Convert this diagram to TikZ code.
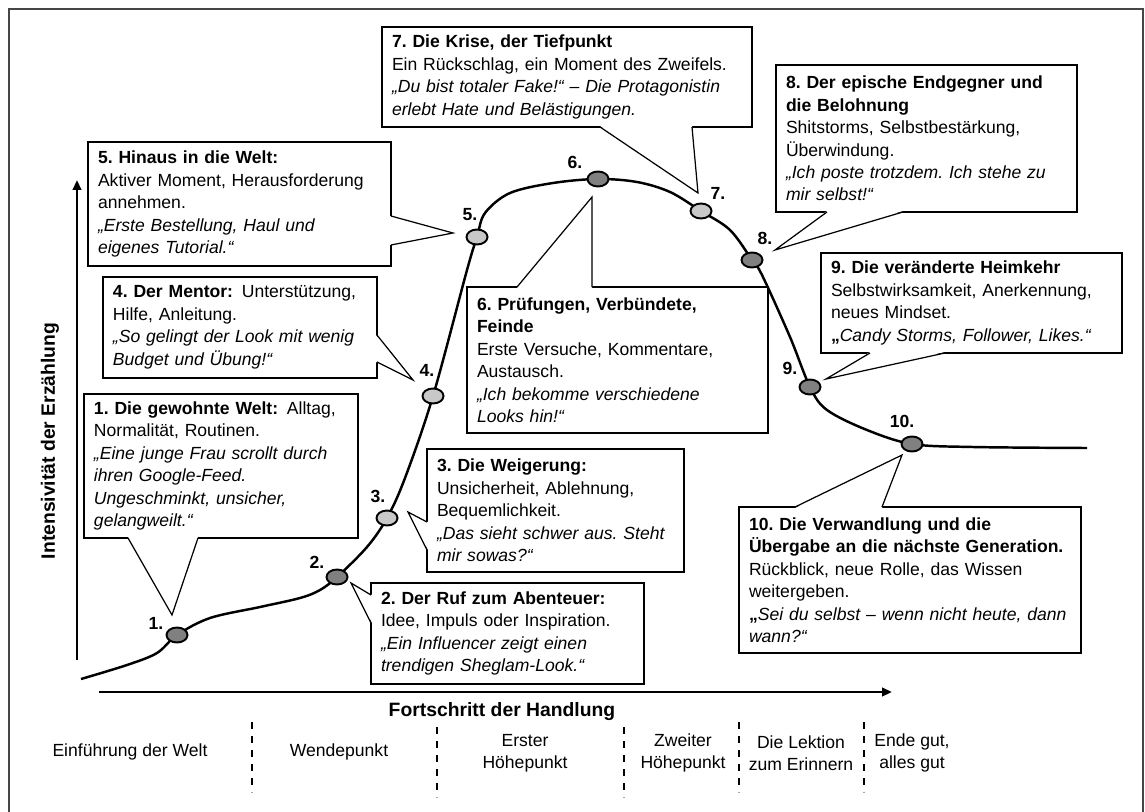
\documentclass[tikz,border=0pt]{standalone}
\usepackage{fontspec}
\setmainfont{Liberation Sans}
\usepackage{tikz}
\usetikzlibrary{arrows.meta,shapes.geometric,calc}
\definecolor{ptdark}{RGB}{128,128,128}
\definecolor{ptlight}{RGB}{200,200,200}
\definecolor{framegray}{RGB}{70,70,70}
\frenchspacing

\begin{document}
\begin{tikzpicture}[x=0.02cm,y=-0.02cm,
  box/.style={draw,fill=white,line width=0.7pt,anchor=north west,align=left,
    inner xsep=0.2cm,inner ysep=0.1cm,outer sep=0pt,font=\fontsize{10}{12.8}\selectfont},
  tail/.style={line width=0.7pt},
  pt/.style={ellipse,draw,line width=1.1pt,minimum width=0.42cm,minimum height=0.3cm,inner sep=0pt},
  num/.style={font=\bfseries\fontsize{10}{12}\selectfont,inner sep=0pt},
  phase/.style={align=center,font=\fontsize{10}{12.4}\selectfont},
  axlabel/.style={font=\bfseries\fontsize{11}{13}\selectfont},
  curve/.style={line width=1.4pt},
  axis/.style={line width=1.4pt,-{Triangle[length=0.2cm,width=0.17cm]}},
  sep/.style={line width=0.8pt,dash pattern=on 0.14cm off 0.14cm}]
  \useasboundingbox (0,0) rectangle (1145,811);
  \draw[framegray,line width=0.6pt] (9,9) rectangle (1143,830); %Outer frame

  \coordinate (y0) at (77,660);  %Intensity axis
  \coordinate (y1) at (77,180);
  \coordinate (x0) at (99,692);  %Progress axis
  \coordinate (x1) at (892,692);
  \draw[axis] (y0) -- (y1);
  \draw[axis] (x0) -- (x1);
  \node[axlabel,rotate=90] (ylab) at (50,441) {Intensivität der Erzählung};
  \node[axlabel] (xlab) at (502,712) {Fortschritt der Handlung};

  % story curve
  \draw[curve] plot[smooth,tension=0.55] coordinates {(81,679) (127,665) (157,653) (177,635)
    (210,618) (260,607) (300,598) (320,590) (337,577) (367,547) (387,518) (405,478) (433,396)
    (467,270) (477,237) (485,213) (510,193) (553,183) (598,179) (637,182) (670,192) (701,211)
    (730,230) (752,260) (762,275) (790,337) (810,387) (827,410) (867,430) (912,444) (973,447)
    (1087,448)};

  % callout boxes
  \node[box,text width=5.08cm,minimum height=2.88cm] (b1) at (84,394)
    {\textbf{1. Die gewohnte Welt:}\enspace Alltag,\\ Normalität, Routinen.\\
     \itshape „Eine junge Frau scrollt durch\\ ihren Google-Feed.\\ Ungeschminkt, unsicher,\\ gelangweilt.“};
  \node[box,text width=5.06cm,minimum height=2.02cm] (b2) at (371,583)
    {\textbf{2. Der Ruf zum Abenteuer:}\\ Idee, Impuls oder Inspiration.\\
     \itshape „Ein Influencer zeigt einen\\ trendigen Sheglam-Look.“};
  \node[box,text width=4.74cm,minimum height=2.46cm] (b3) at (427,449)
    {\textbf{3. Die Weigerung:}\\ Unsicherheit, Ablehnung,\\ Bequemlichkeit.\\
     \itshape „Das sieht schwer aus. Steht\\ mir sowas?“};
  \node[box,text width=5.08cm,minimum height=2.02cm] (b4) at (103,277)
    {\textbf{4. Der Mentor:}\enspace Unterstützung,\\ Hilfe, Anleitung.\\
     \itshape „So gelingt der Look mit wenig\\ Budget und Übung!“};
  \node[box,text width=5.66cm,minimum height=2.48cm] (b5) at (88,142)
    {\textbf{5. Hinaus in die Welt:}\\ Aktiver Moment, Herausforderung\\ annehmen.\\
     \itshape „Erste Bestellung, Haul und\\ eigenes Tutorial.“};
  \node[box,text width=5.62cm,minimum height=2.92cm] (b6) at (467,287)
    {\textbf{6. Prüfungen, Verbündete,}\\ \textbf{Feinde}\\ Erste Versuche, Kommentare,\\ Austausch.\\
     \itshape „Ich bekomme verschiedene\\ Looks hin!“};
  \node[box,text width=7.00cm,minimum height=2.00cm] (b7) at (382,27)
    {\textbf{7. Die Krise, der Tiefpunkt}\\ Ein Rückschlag, ein Moment des Zweifels.\\
     \itshape „Du bist totaler Fake!“ – Die Protagonistin\\ erlebt Hate und Belästigungen.};
  \node[box,text width=5.62cm,minimum height=2.94cm] (b8) at (776,65)
    {\textbf{8. Der epische Endgegner und}\\ \textbf{die Belohnung}\\ Shitstorms, Selbstbestärkung,\\ Überwindung.\\
     \itshape „Ich poste trotzdem. Ich stehe zu\\ mir selbst!“};
  \node[box,text width=5.62cm,minimum height=2.00cm] (b9) at (821,253)
    {\textbf{9. Die veränderte Heimkehr}\\ Selbstwirksamkeit, Anerkennung,\\ neues Mindset.\\
     \textbf{„}\itshape Candy Storms, Follower, Likes.“};
  \node[box,text width=6.44cm,minimum height=2.92cm] (b10) at (739,507)
    {\textbf{10. Die Verwandlung und die}\\ \textbf{Übergabe an die nächste Generation.}\\
     Rückblick, neue Rolle, das Wissen\\ weitergeben.\\
     \textbf{„}\itshape Sei du selbst – wenn nicht heute, dann\\ wann?“};

  % callout tails
  \coordinate (t1) at (172,615);
  \coordinate (t2) at (351,583);
  \coordinate (t3) at (408,512);
  \coordinate (t4) at (413,380);
  \coordinate (t5) at (453,233);
  \coordinate (t6) at (592,197);
  \coordinate (t7) at (698,193);
  \coordinate (t8) at (775,250);
  \coordinate (t9) at (826,379);
  \coordinate (t10) at (902,455);
  \fill[white] ($(b1.south west)+(44,-1)$) -- (t1) -- ($(b1.south west)+(114,-1)$) -- cycle;
  \draw[tail] ($(b1.south west)+(44,0)$) -- (t1) -- ($(b1.south west)+(114,0)$);
  \fill[white] ($(b2.north west)+(1,12)$) -- (t2) -- ($(b2.north west)+(1,40)$) -- cycle;
  \draw[tail] ($(b2.north west)+(0,12)$) -- (t2) -- ($(b2.north west)+(0,40)$);
  \fill[white] ($(b3.north west)+(1,73)$) -- (t3) -- ($(b3.north west)+(1,101)$) -- cycle;
  \draw[tail] ($(b3.north west)+(0,73)$) -- (t3) -- ($(b3.north west)+(0,101)$);
  \fill[white] ($(b4.north east)+(-1,58)$) -- (t4) -- ($(b4.north east)+(-1,85)$) -- cycle;
  \draw[tail] ($(b4.north east)+(0,58)$) -- (t4) -- ($(b4.north east)+(0,85)$);
  \fill[white] ($(b5.north east)+(-1,74)$) -- (t5) -- ($(b5.north east)+(-1,103)$) -- cycle;
  \draw[tail] ($(b5.north east)+(0,74)$) -- (t5) -- ($(b5.north east)+(0,103)$);
  \fill[white] ($(b6.north west)+(50,1)$) -- (t6) -- ($(b6.north west)+(125,1)$) -- cycle;
  \draw[tail] ($(b6.north west)+(50,0)$) -- (t6) -- ($(b6.north west)+(125,0)$);
  \fill[white] ($(b7.south west)+(218,-1)$) -- (t7) -- ($(b7.south west)+(310,-1)$) -- cycle;
  \draw[tail] ($(b7.south west)+(218,0)$) -- (t7) -- ($(b7.south west)+(310,0)$);
  \fill[white] ($(b8.south west)+(51,-1)$) -- (t8) -- ($(b8.south west)+(127,-1)$) -- cycle;
  \draw[tail] ($(b8.south west)+(51,0)$) -- (t8) -- ($(b8.south west)+(127,0)$);
  \fill[white] ($(b9.south west)+(49,-1)$) -- (t9) -- ($(b9.south west)+(124,-1)$) -- cycle;
  \draw[tail] ($(b9.south west)+(49,0)$) -- (t9) -- ($(b9.south west)+(124,0)$);
  \fill[white] ($(b10.north west)+(56,1)$) -- (t10) -- ($(b10.north west)+(143,1)$) -- cycle;
  \draw[tail] ($(b10.north west)+(56,0)$) -- (t10) -- ($(b10.north west)+(143,0)$);

  % stations on the curve
  \node[pt,fill=ptdark] (p1) at (177,635) {};
  \node[pt,fill=ptdark] (p2) at (337,577) {};
  \node[pt,fill=ptlight] (p3) at (387,518) {};
  \node[pt,fill=ptlight] (p4) at (433,396) {};
  \node[pt,fill=ptlight] (p5) at (477,237) {};
  \node[pt,fill=ptdark] (p6) at (598,179) {};
  \node[pt,fill=ptlight] (p7) at (701,211) {};
  \node[pt,fill=ptdark] (p8) at (752,260) {};
  \node[pt,fill=ptdark] (p9) at (810,387) {};
  \node[pt,fill=ptdark] (p10) at (912,444) {};
  \node[num] (n1) at (156,623) {1.};
  \node[num] (n2) at (317,562) {2.};
  \node[num] (n3) at (378,496) {3.};
  \node[num] (n4) at (427,370) {4.};
  \node[num] (n5) at (470,215) {5.};
  \node[num] (n6) at (575,162) {6.};
  \node[num] (n7) at (718,193) {7.};
  \node[num] (n8) at (765,238) {8.};
  \node[num] (n9) at (790,368) {9.};
  \node[num] (n10) at (902,421) {10.};

  % phases below the axis
  \node[phase] (ph1) at (130,752) {Einführung der Welt};
  \node[phase] (ph2) at (339,752) {Wendepunkt};
  \node[phase] (ph3) at (525,753) {Erster\\Höhepunkt};
  \node[phase] (ph4) at (683,753) {Zweiter\\Höhepunkt};
  \node[phase] (ph5) at (801,753) {Die Lektion\\zum Erinnern};
  \node[phase] (ph6) at (912,753) {Ende gut,\\alles gut};
  \draw[sep] (252,722) -- (252,792); %Phase borders
  \draw[sep] (437,727) -- (437,797);
  \draw[sep] (624,727) -- (624,797);
  \draw[sep] (739,722) -- (739,792);
  \draw[sep] (864,722) -- (864,792);
\end{tikzpicture}
\end{document}
